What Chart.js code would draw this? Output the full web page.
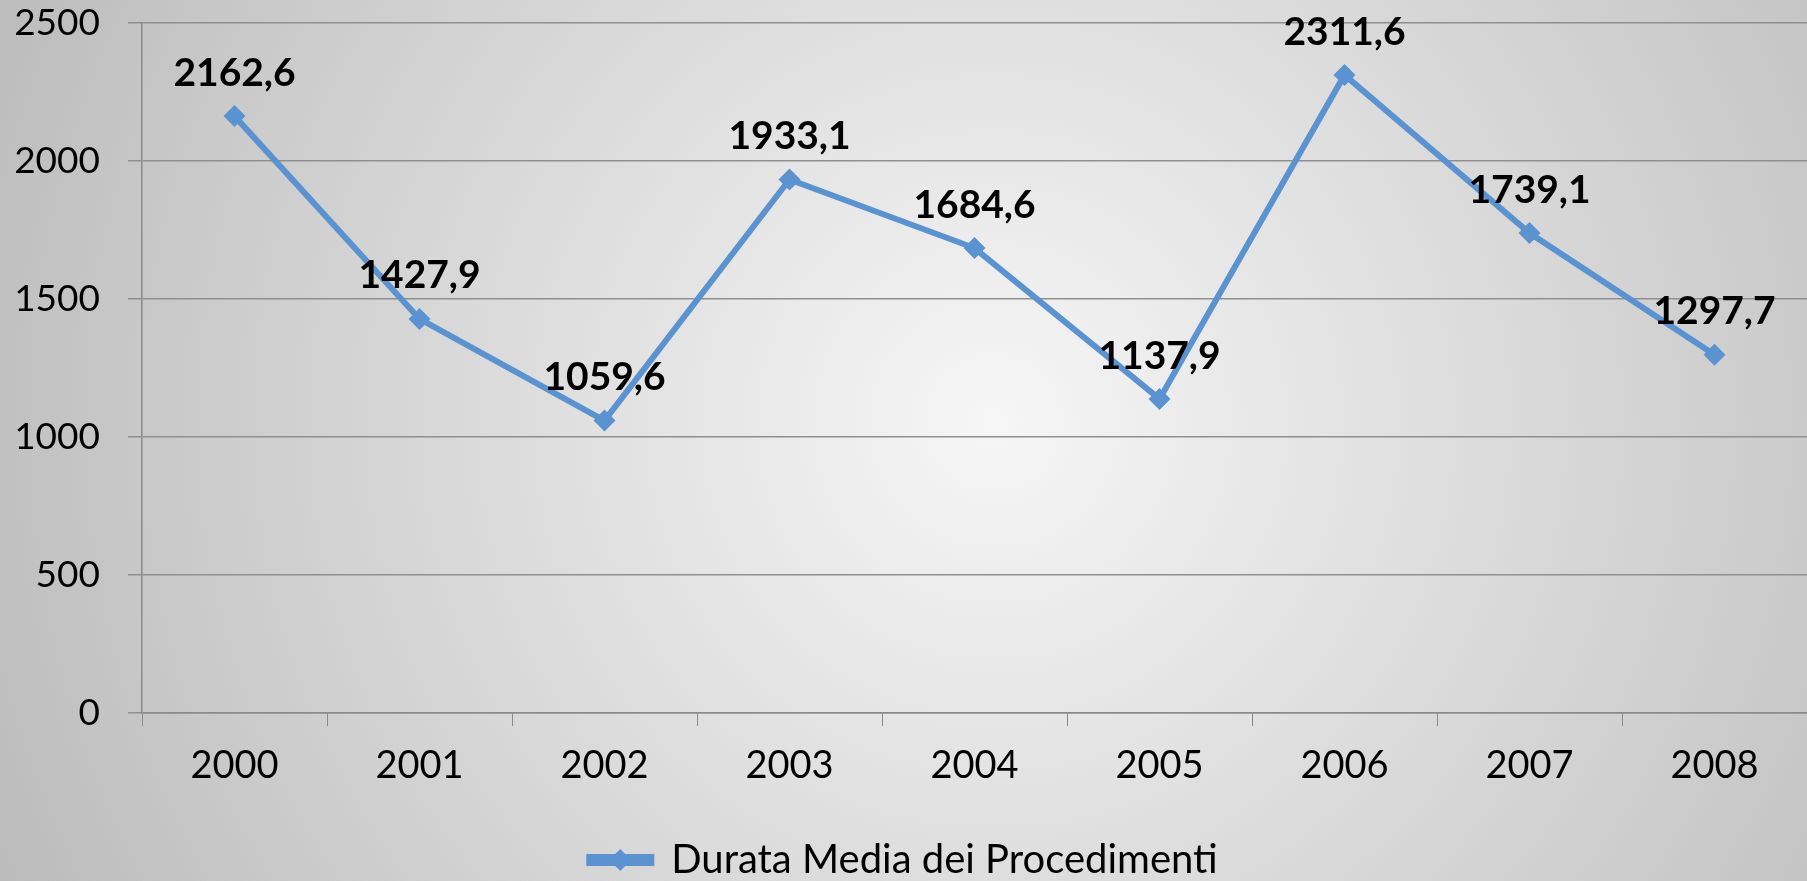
<!DOCTYPE html>
<html>
<head>
<meta charset="utf-8">
<script src="https://cdn.jsdelivr.net/npm/chart.js@4.4.0/dist/chart.umd.min.js"></script>
<style>
  html, body { margin: 0; padding: 0; background: #c8c8c8; }
  #wrap { width: 1807px; height: 881px; }
</style>
</head>
<body>
<div id="wrap"><canvas id="chart" width="1807" height="881"></canvas></div>
<script>
const years = ['2000', '2001', '2002', '2003', '2004', '2005', '2006', '2007', '2008'];
const durata = [2162.6, 1427.9, 1059.6, 1933.1, 1684.6, 1137.9, 2311.6, 1739.1, 1297.7];
const yTicks = [0, 500, 1000, 1500, 2000, 2500];
const seriesName = 'Durata Media dei Procedimenti';

const LINE_COLOR = '#5b93d1';
const FONT = 'Lato, "Open Sans", sans-serif';
const LEGEND_BOX = 62;

const formatIt = v => v.toFixed(1).replace('.', ',');

// scales should not reserve room for half tick labels
const noScalePadding = scale => {
    scale.paddingTop = 0;
    scale.paddingBottom = 0;
    scale.paddingLeft = 0;
    scale.paddingRight = 0;
};

// radial grey background like the office chart
const backgroundPlugin = {
    id: 'bg',
    beforeDraw: chart => {
        const {ctx, width, height} = chart;
        const g = ctx.createRadialGradient(width * 0.55, height * 0.48, 0, width * 0.55, height * 0.48, width * 0.62);
        g.addColorStop(0, '#f6f6f6');
        g.addColorStop(1, '#bababa');
        ctx.save();
        ctx.fillStyle = g;
        ctx.fillRect(0, 0, width, height);
        ctx.restore();
    }
};

// nudge the legend a little lower, closer to the bottom edge
const legendNudge = {
    id: 'legendNudge',
    afterLayout: chart => {
        chart.legend.top += 9;
        chart.legend.bottom += 9;
    }
};

// value labels above each point
const valueLabels = {
    id: 'valueLabels',
    afterDatasetsDraw: chart => {
        const ctx = chart.ctx;
        const meta = chart.getDatasetMeta(0);
        ctx.save();
        ctx.font = 'bold 39px ' + FONT;
        ctx.fillStyle = '#000';
        ctx.textAlign = 'center';
        ctx.textBaseline = 'middle';
        meta.data.forEach((pt, i) => {
            ctx.fillText(formatIt(durata[i]), pt.x, pt.y - 43);
        });
        ctx.restore();
    }
};

// diamond on the legend line
const legendDiamond = {
    id: 'legendDiamond',
    afterDraw: chart => {
        const box = chart.legend.legendHitBoxes[0];
        if (!box) return;
        const ctx = chart.ctx;
        const cx = box.left + LEGEND_BOX / 2;
        const cy = box.top + box.height / 2;
        ctx.save();
        ctx.fillStyle = LINE_COLOR;
        ctx.beginPath();
        ctx.moveTo(cx, cy - 11);
        ctx.lineTo(cx + 11, cy);
        ctx.lineTo(cx, cy + 11);
        ctx.lineTo(cx - 11, cy);
        ctx.closePath();
        ctx.fill();
        ctx.restore();
    }
};

new Chart(document.getElementById('chart'), {
    type: 'line',
    data: {
        labels: years,
        datasets: [{
            label: seriesName,
            data: durata,
            borderColor: LINE_COLOR,
            backgroundColor: LINE_COLOR,
            borderWidth: 6,
            pointStyle: 'rectRot',
            pointRadius: 11,
            pointHoverRadius: 11,
            pointBackgroundColor: LINE_COLOR,
            pointBorderWidth: 0,
            tension: 0,
            clip: false
        }]
    },
    options: {
        responsive: false,
        animation: false,
        layout: {autoPadding: false, padding: {top: 23, right: 0, bottom: 0, left: 0}},
        plugins: {
            legend: {
                position: 'bottom',
                labels: {
                    boxWidth: LEGEND_BOX,
                    boxHeight: 6,
                    font: {size: 40, family: FONT},
                    color: '#000',
                    padding: 0
                }
            },
            tooltip: {enabled: false}
        },
        scales: {
            x: {
                offset: true,
                grid: {
                    offset: true,
                    drawOnChartArea: false,
                    drawTicks: true,
                    tickLength: 13,
                    color: '#8a8a8a'
                },
                border: {color: '#8a8a8a', width: 1.5},
                ticks: {
                    color: '#000',
                    font: {size: 38, family: FONT},
                    padding: 17,
                    maxRotation: 0
                },
                afterFit: scale => {
                    scale.height = 118;
                    noScalePadding(scale);
                }
            },
            y: {
                min: 0,
                max: 2500,
                afterBuildTicks: scale => { scale.ticks = yTicks.map(v => ({value: v})); },
                grid: {
                    color: '#8f8f8f',
                    lineWidth: 1.5,
                    tickLength: 14
                },
                border: {color: '#8a8a8a', width: 1.5},
                ticks: {
                    color: '#000',
                    font: {size: 37, family: FONT},
                    padding: 28,
                    callback: v => String(v)
                },
                afterFit: scale => {
                    scale.width = 142;
                    noScalePadding(scale);
                }
            }
        }
    },
    plugins: [backgroundPlugin, legendNudge, valueLabels, legendDiamond]
});
</script>
</body>
</html>
